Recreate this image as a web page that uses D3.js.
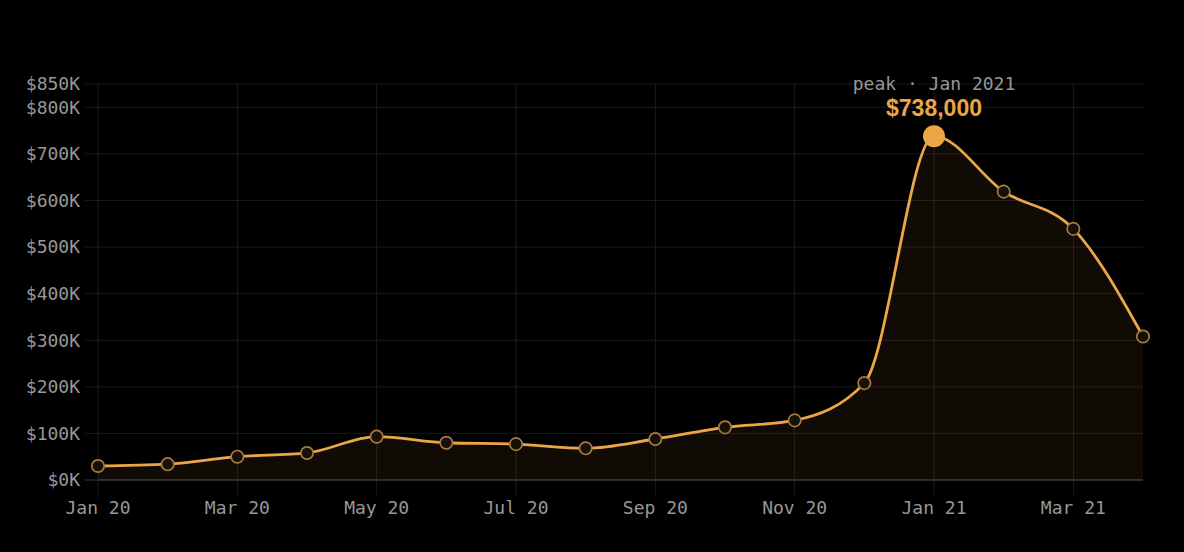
<!DOCTYPE html>
<html><head><meta charset="utf-8">
<script src="https://cdn.jsdelivr.net/npm/d3@7"></script>
<style>
html,body{margin:0;padding:0;background:#000;}
svg{display:block;}
</style></head>
<body>
<svg id="chart" width="1184" height="552"></svg>
<script>
const months = ["Jan 20","Feb 20","Mar 20","Apr 20","May 20","Jun 20","Jul 20","Aug 20","Sep 20","Oct 20","Nov 20","Dec 20","Jan 21","Feb 21","Mar 21","Apr 21"];
const values = [30000,34000,50000,58000,93000,80000,77000,68000,88000,113000,128000,208000,738000,619000,539000,308000];
const xTickLabels = ["Jan 20","Mar 20","May 20","Jul 20","Sep 20","Nov 20","Jan 21","Mar 21"];
const yTicks = [0,100000,200000,300000,400000,500000,600000,700000,800000,850000];
const peakLabel = "peak · Jan 2021";

const W = 1184, H = 552;
const m = {left:98, right:41, top:84, bottom:72};
const svg = d3.select("#chart");
svg.append("rect").attr("width",W).attr("height",H).attr("fill","#000");

const x = d3.scalePoint().domain(months).range([m.left, W - m.right]);
const y = d3.scaleLinear().domain([0, 850000]).range([H - m.bottom, m.top]);
const mono = "'DejaVu Sans Mono', monospace";
const txt = "#979797";

// horizontal grid
svg.append("g").selectAll("line").data(yTicks).join("line")
  .attr("x1", m.left - 13).attr("x2", W - m.right)
  .attr("y1", d => y(d)).attr("y2", d => y(d))
  .attr("stroke", d => d === 0 ? "#3a3a3a" : "#1a1a1a").attr("stroke-width", 1);
// vertical grid
svg.append("g").selectAll("line").data(xTickLabels).join("line")
  .attr("x1", d => x(d)).attr("x2", d => x(d))
  .attr("y1", m.top).attr("y2", y(0) + 15)
  .attr("stroke", "#1c1c1c").attr("stroke-width", 1);

// area
const data = months.map((mo, i) => ({mo, v: values[i]}));
svg.append("path").datum(data)
  .attr("d", d3.area().x(d => x(d.mo)).y0(y(0)).y1(d => y(d.v)).curve(d3.curveMonotoneX))
  .attr("fill", "#e8a34a").attr("fill-opacity", 0.07);
// baseline on top of area
svg.append("line").attr("x1", m.left).attr("x2", W - m.right)
  .attr("y1", y(0)).attr("y2", y(0)).attr("stroke", "#3a3a3a");

svg.append("path").datum(data)
  .attr("d", d3.line().x(d => x(d.mo)).y(d => y(d.v)).curve(d3.curveMonotoneX))
  .attr("fill", "none").attr("stroke", "#eba646").attr("stroke-width", 2.8);

const peakIdx = values.indexOf(d3.max(values));
svg.append("g").selectAll("circle").data(data.filter((d,i) => i !== peakIdx)).join("circle")
  .attr("cx", d => x(d.mo)).attr("cy", d => y(d.v)).attr("r", 6.2)
  .attr("fill", "#15100a").attr("stroke", "#a87a3e").attr("stroke-width", 1.7);
const pk = data[peakIdx];
svg.append("circle").attr("cx", x(pk.mo)).attr("cy", y(pk.v)).attr("r", 11).attr("fill", "#eba646");

// y labels
svg.append("g").selectAll("text").data(yTicks).join("text")
  .attr("x", m.left - 18).attr("y", d => y(d)).attr("dy", "0.35em")
  .attr("text-anchor", "end").attr("fill", txt)
  .attr("font-family", mono).attr("font-size", 18)
  .text(d => "$" + d3.format("d")(d / 1000) + "K");
// x labels
svg.append("g").selectAll("text").data(xTickLabels).join("text")
  .attr("x", d => x(d)).attr("y", y(0) + 34)
  .attr("text-anchor", "middle").attr("fill", txt)
  .attr("font-family", mono).attr("font-size", 18)
  .text(d => d);

// peak annotation
svg.append("text").attr("x", x(pk.mo)).attr("y", y(pk.v) - 46)
  .attr("text-anchor", "middle").attr("fill", txt)
  .attr("font-family", mono).attr("font-size", 18).text(peakLabel);
svg.append("text").attr("x", x(pk.mo)).attr("y", y(pk.v) - 20)
  .attr("text-anchor", "middle").attr("fill", "#eba646")
  .attr("font-family", "'Liberation Sans', Arial, sans-serif").attr("font-weight", "bold").attr("font-size", 23)
  .text("$" + d3.format(",")(pk.v));
</script>
</body></html>
